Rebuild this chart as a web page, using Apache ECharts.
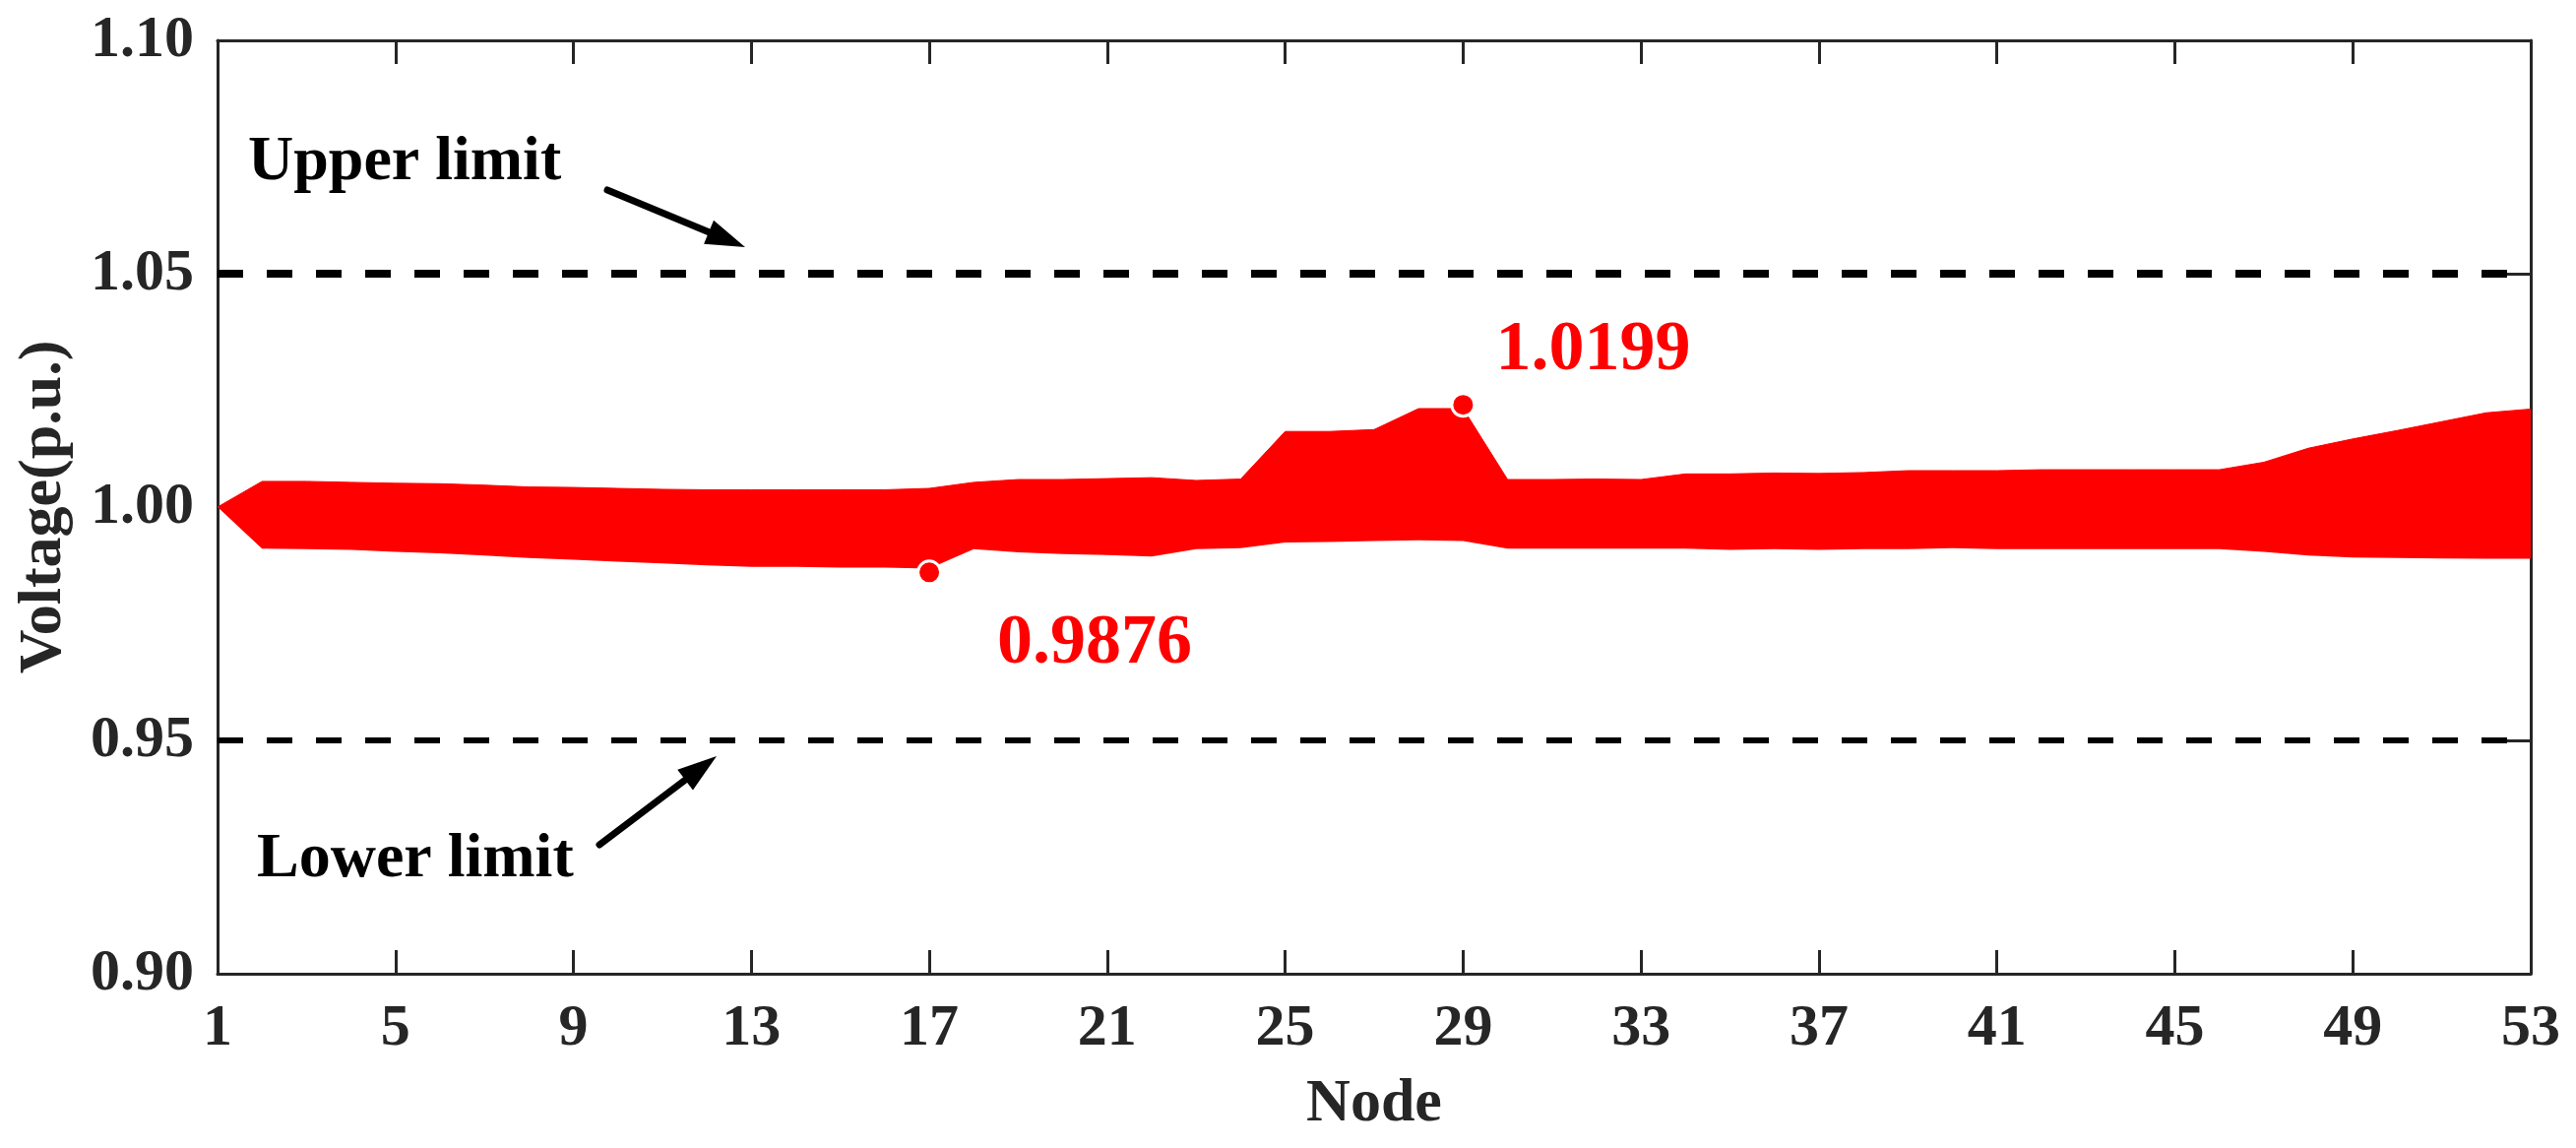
<!DOCTYPE html>
<html>
<head>
<meta charset="utf-8">
<title>Node voltage</title>
<script src="https://cdn.jsdelivr.net/npm/echarts/dist/echarts.min.js"></script>
<style>
  html, body { margin: 0; padding: 0; background: #fff; }
  #main { width: 2617px; height: 1166px; }
</style>
</head>
<body>
<div id="main"></div>
<script>
// 节点编号
var nodes = ['1','2','3','4','5','6','7','8','9','10','11','12','13','14','15','16','17','18','19','20',
  '21','22','23','24','25','26','27','28','29','30','31','32','33','34','35','36','37','38','39','40',
  '41','42','43','44','45','46','47','48','49','50','51','52','53'];

// 电压上包络
var upperV = [1.0000, 1.0055, 1.0055, 1.0053, 1.0051, 1.0050, 1.0047, 1.0043, 1.0042, 1.0040,
  1.0038, 1.0037, 1.0037, 1.0037, 1.0037, 1.0037, 1.0040, 1.0053, 1.0059, 1.0059,
  1.0061, 1.0063, 1.0057, 1.0060, 1.0162, 1.0162, 1.0166, 1.0211, 1.0211, 1.0059,
  1.0059, 1.0060, 1.0059, 1.0071, 1.0071, 1.0073, 1.0072, 1.0074, 1.0078, 1.0078,
  1.0078, 1.0080, 1.0080, 1.0080, 1.0080, 1.0080, 1.0096, 1.0126, 1.0146, 1.0164,
  1.0183, 1.0202, 1.0210];

// 电压下包络
var lowerV = [1.0000, 0.9911, 0.9910, 0.9908, 0.9904, 0.9901, 0.9896, 0.9891, 0.9887, 0.9883,
  0.9879, 0.9875, 0.9872, 0.9872, 0.9870, 0.9870, 0.9868, 0.9910, 0.9903, 0.9899,
  0.9897, 0.9894, 0.9910, 0.9912, 0.9924, 0.9925, 0.9927, 0.9929, 0.9927, 0.9911,
  0.9911, 0.9911, 0.9911, 0.9911, 0.9908, 0.9910, 0.9908, 0.9910, 0.9910, 0.9912,
  0.9910, 0.9910, 0.9910, 0.9910, 0.9910, 0.9910, 0.9904, 0.9896, 0.9892, 0.9891,
  0.9890, 0.9889, 0.9889];

// 极值标注
var markNodes = ['17', '29'];
var markValues = [0.9860, 1.0219];
var markTexts = ['0.9876', '1.0199'];
var markOffsets = [[69, 73], [33, -55]];

// 电压上下限
var upperLimit = 1.05;
var lowerLimit = 0.95;

var FONT = '"Liberation Serif", "Times New Roman", serif';
var AXIS_C = '#262626';

var chart = echarts.init(document.getElementById('main'));

// 上下包络差值（堆叠面积用）
var bandWidth = upperV.map(function (v, i) { return +(v - lowerV[i]).toFixed(4); });

var markData = markNodes.map(function (n, i) {
  return {
    value: [n, markValues[i]],
    label: {
      show: true,
      position: 'inside',
      align: 'left',
      verticalAlign: 'middle',
      offset: markOffsets[i],
      formatter: markTexts[i],
      color: '#ff0000',
      fontFamily: FONT,
      fontWeight: 'bold',
      fontSize: 72
    }
  };
});

function dashLine(val, width) {
  return {
    silent: true,
    symbol: 'none',
    label: { show: false },
    lineStyle: { color: '#000', width: width, type: [26, 24], opacity: 1 },
    emphasis: { disabled: true },
    data: [{ yAxis: val }]
  };
}

// 箭头
function arrow(tail, tip) {
  var dx = tip[0] - tail[0], dy = tip[1] - tail[1];
  var len = Math.sqrt(dx * dx + dy * dy);
  var ux = dx / len, uy = dy / len;
  var L = 40, W = 13;
  var bx = tip[0] - ux * L, by = tip[1] - uy * L;
  return [
    {
      type: 'line',
      shape: { x1: tail[0], y1: tail[1], x2: bx + ux * 4, y2: by + uy * 4 },
      style: { stroke: '#000', lineWidth: 7, lineCap: 'round' },
      z: 100
    },
    {
      type: 'polygon',
      shape: { points: [tip, [bx - uy * W, by + ux * W], [bx + uy * W, by - ux * W]] },
      style: { fill: '#000' },
      z: 100
    }
  ];
}

var tickCommon = { show: true, inside: true, length: 24, lineStyle: { color: AXIS_C, width: 3 } };
var lineCommon = { show: true, onZero: false, lineStyle: { color: AXIS_C, width: 3 } };

var option = {
  backgroundColor: '#fff',
  animation: false,
  grid: { left: 221, right: 46, top: 41, bottom: 177, containLabel: false },
  xAxis: [
    {
      type: 'category',
      data: nodes,
      boundaryGap: false,
      position: 'bottom',
      name: 'Node',
      nameLocation: 'middle',
      nameGap: 102,
      nameTextStyle: { color: AXIS_C, fontFamily: FONT, fontWeight: 'bold', fontSize: 62 },
      axisLine: lineCommon,
      axisTick: echarts.util.merge({ interval: 3 }, tickCommon),
      axisLabel: { interval: 3, margin: 26, color: AXIS_C, fontFamily: FONT, fontWeight: 'bold', fontSize: 60 },
      splitLine: { show: false }
    },
    {
      type: 'category',
      data: nodes,
      boundaryGap: false,
      position: 'top',
      axisLine: lineCommon,
      axisTick: echarts.util.merge({ interval: 3 }, tickCommon),
      axisLabel: { show: false },
      splitLine: { show: false }
    }
  ],
  yAxis: [
    {
      type: 'value',
      min: 0.9,
      max: 1.1,
      interval: 0.05,
      position: 'left',
      name: 'Voltage(p.u.)',
      nameLocation: 'middle',
      nameGap: 145,
      nameTextStyle: { color: AXIS_C, fontFamily: FONT, fontWeight: 'bold', fontSize: 62 },
      axisLine: lineCommon,
      axisTick: tickCommon,
      axisLabel: {
        margin: 24, color: AXIS_C, fontFamily: FONT, fontWeight: 'bold', fontSize: 60,
        formatter: function (v) { return v.toFixed(2); }
      },
      splitLine: { show: false }
    },
    {
      type: 'value',
      min: 0.9,
      max: 1.1,
      interval: 0.05,
      position: 'right',
      axisLine: lineCommon,
      axisTick: tickCommon,
      axisLabel: { show: false },
      splitLine: { show: false }
    }
  ],
  series: [
    {
      name: 'lower',
      type: 'line',
      stack: 'band',
      data: lowerV,
      symbol: 'none',
      lineStyle: { opacity: 0 },
      silent: true,
      z: 3
    },
    {
      name: 'band',
      type: 'line',
      stack: 'band',
      data: bandWidth,
      symbol: 'none',
      lineStyle: { color: '#ff0000', width: 1 },
      areaStyle: { color: '#ff0000', opacity: 1 },
      silent: true,
      z: 3
    },
    {
      name: 'upperLimit',
      type: 'line',
      data: [],
      markLine: dashLine(upperLimit, 8),
      z: 4
    },
    {
      name: 'lowerLimit',
      type: 'line',
      data: [],
      markLine: dashLine(lowerLimit, 6),
      z: 4
    },
    {
      name: 'extreme',
      type: 'scatter',
      data: markData,
      symbol: 'circle',
      symbolSize: 23,
      itemStyle: { color: '#ff0000', borderColor: '#fff', borderWidth: 3, opacity: 1 },
      z: 6
    }
  ],
  graphic: [
    {
      type: 'text',
      x: 252, y: 165,
      style: { text: 'Upper limit', fill: '#000', font: 'bold 64px ' + FONT, align: 'left', verticalAlign: 'middle' },
      z: 100
    },
    {
      type: 'text',
      x: 261, y: 873,
      style: { text: 'Lower limit', fill: '#000', font: 'bold 64px ' + FONT, align: 'left', verticalAlign: 'middle' },
      z: 100
    }
  ].concat(arrow([617, 193], [757, 251]), arrow([609, 858], [728, 768]))
};

chart.setOption(option);
</script>
</body>
</html>
